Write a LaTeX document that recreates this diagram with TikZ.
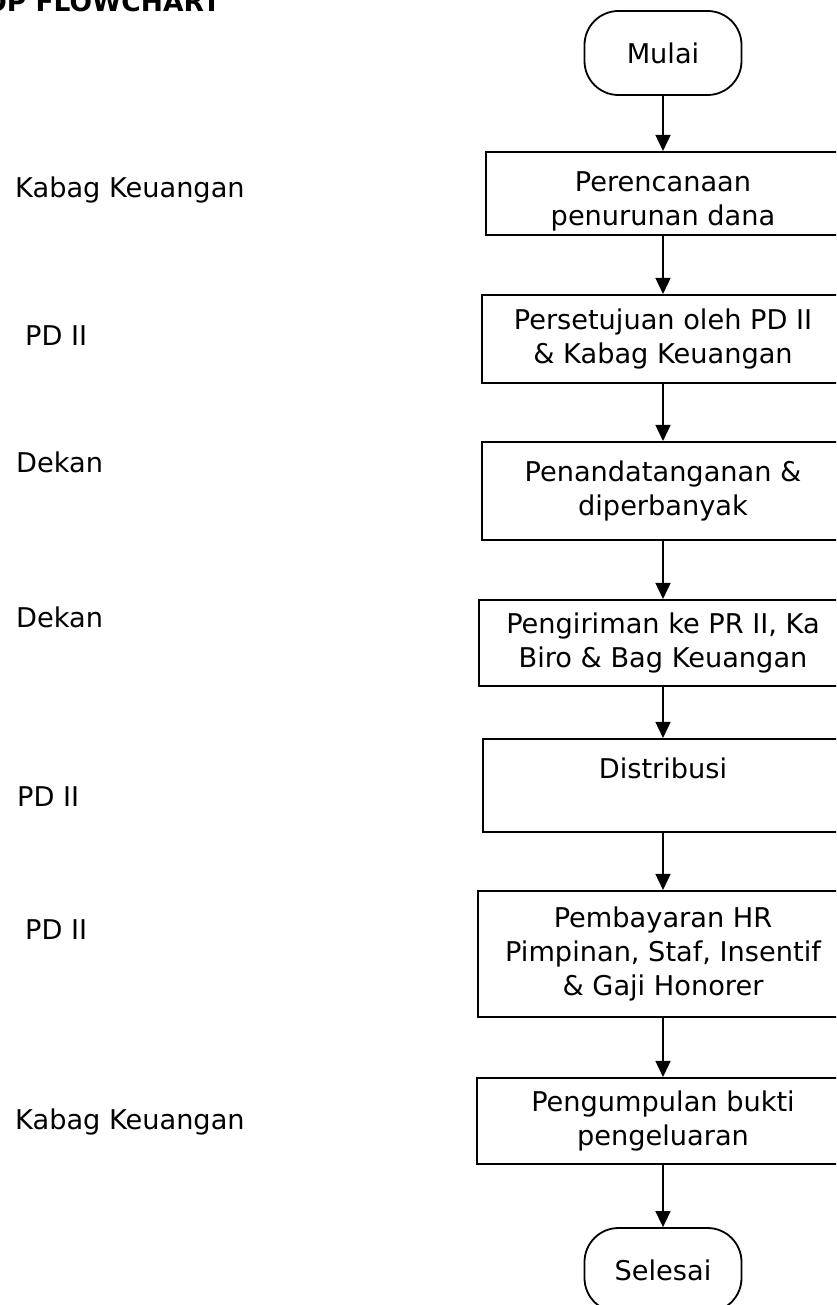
\documentclass[tikz,border=0pt]{standalone}
\usepackage{fontspec}
\setmainfont{DejaVu Sans}
\usetikzlibrary{arrows.meta}
\begin{document}
\begin{tikzpicture}[x=1pt,y=-1pt,
  every node/.style={font=\fontsize{27.2}{34}\selectfont, inner sep=0pt},
  procbox/.style={draw, line width=2.1pt, align=center},
  termbox/.style={draw, line width=1.8pt, rounded corners=34pt, minimum width=157pt, minimum height=84pt},
  lbl/.style={anchor=west},
  flow/.style={line width=1.6pt, -{Triangle[length=16pt,width=15pt]}}
]
\useasboundingbox (0,0) rectangle (836,1305);
\clip (0,0) rectangle (836,1305);
\fill[white] (0,0) rectangle (836,1305);

\node[anchor=base east, font=\fontsize{26.5}{33}\selectfont\bfseries] (title) at (221,12) {SOP FLOWCHART};

\node[termbox] (start) at (663,53) {Mulai};
\node[procbox, minimum width=354pt, minimum height=83pt] (b1) at (663,193.5) {\rule{0pt}{35.8pt}Perencanaan\\penurunan dana};
\node[procbox, minimum width=362pt, minimum height=88pt] (b2) at (663,339) {Persetujuan oleh PD II\\\& Kabag Keuangan};
\node[procbox, minimum width=362pt, minimum height=98pt] (b3) at (663,491) {Penandatanganan \&\\diperbanyak};
\node[procbox, minimum width=368pt, minimum height=86pt] (b4) at (663,643) {Pengiriman ke PR II, Ka\\Biro \& Bag Keuangan};
\node[procbox, minimum width=360pt, minimum height=93pt] (b5) at (663,785.5) {Distribusi\\\mbox{}};
\node[procbox, minimum width=370pt, minimum height=126pt] (b6) at (663,954) {Pembayaran HR\\Pimpinan, Staf, Insentif\\\& Gaji Honorer};
\node[procbox, minimum width=372pt, minimum height=86pt] (b7) at (663,1121) {Pengumpulan bukti\\pengeluaran};
\node[termbox] (end) at (663,1270) {Selesai};

\draw[flow] (start) -- (b1);
\draw[flow] (b1) -- (b2);
\draw[flow] (b2) -- (b3);
\draw[flow] (b3) -- (b4);
\draw[flow] (b4) -- (b5);
\draw[flow] (b5) -- (b6);
\draw[flow] (b6) -- (b7);
\draw[flow] (b7) -- (end);

\node[lbl] (l1) at (15,190) {Kabag Keuangan};
\node[lbl] (l2) at (25,336) {PD II};
\node[lbl] (l3) at (16,462) {Dekan};
\node[lbl] (l4) at (16,617) {Dekan};
\node[lbl] (l5) at (17,797) {PD II};
\node[lbl] (l6) at (25,930) {PD II};
\node[lbl] (l7) at (15,1122) {Kabag Keuangan};
\end{tikzpicture}
\end{document}
